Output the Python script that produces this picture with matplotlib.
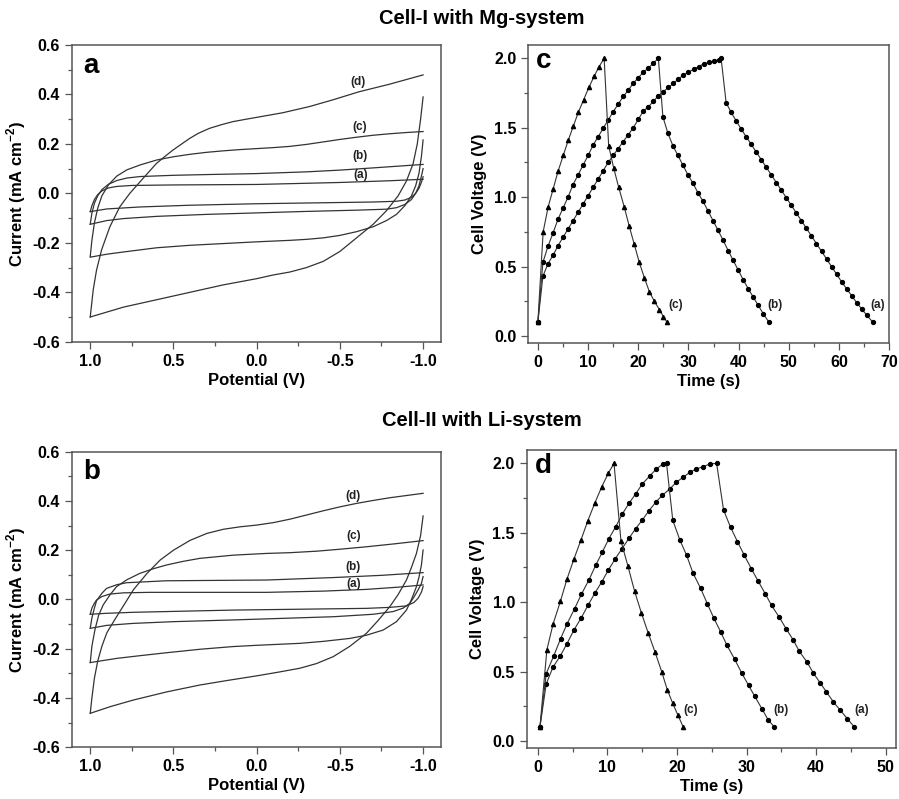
import matplotlib
matplotlib.use("Agg")
import matplotlib.pyplot as plt
from matplotlib.ticker import MultipleLocator, FormatStrFormatter

plt.rcParams['font.family'] = ['Liberation Sans', 'DejaVu Sans']
plt.rcParams['axes.unicode_minus'] = False
plt.rcParams['mathtext.fontset'] = 'custom'
plt.rcParams['mathtext.rm'] = 'Liberation Sans'
plt.rcParams['mathtext.bf'] = 'Liberation Sans:bold'

# ---- CV data, Mg system (panel a): upper branch 1.0 -> -1.0, lower branch -1.0 -> 1.0
mg_d_up_x = [1.0, 0.982, 0.962, 0.932, 0.882, 0.822, 0.762, 0.682, 0.602, 0.55, 0.503, 0.45, 0.403, 0.35, 0.283,
             0.21, 0.143, 0.07, 0.003, -0.157, -0.317, -0.457, -0.616, -0.796, -1.0]
mg_d_up_y = [-0.50, -0.39, -0.31, -0.229, -0.135, -0.054, 0.0, 0.061, 0.121, 0.15, 0.175, 0.20, 0.222, 0.243, 0.263,
             0.278, 0.29, 0.299, 0.307, 0.326, 0.351, 0.378, 0.411, 0.441, 0.479]
mg_d_lo_x = [-1.0, -0.985, -0.965, -0.94, -0.90, -0.85, -0.78, -0.70, -0.60, -0.50, -0.40, -0.30, -0.20, -0.10,
             0.0, 0.2, 0.4, 0.6, 0.8, 0.9, 1.0]
mg_d_lo_y = [0.39, 0.30, 0.20, 0.12, 0.05, -0.01, -0.07, -0.125, -0.18, -0.235, -0.275, -0.30, -0.318, -0.33,
             -0.345, -0.37, -0.40, -0.43, -0.46, -0.48, -0.50]

mg_c_up_x = [1.0, 0.99, 0.975, 0.955, 0.93, 0.89, 0.84, 0.78, 0.70, 0.60, 0.50, 0.40, 0.30, 0.20, 0.10, 0.0,
             -0.10, -0.20, -0.30, -0.40, -0.50, -0.60, -0.70, -0.80, -0.90, -1.0]
mg_c_up_y = [-0.256, -0.19, -0.12, -0.06, -0.01, 0.035, 0.07, 0.095, 0.115, 0.135, 0.148, 0.158, 0.166, 0.172,
             0.177, 0.181, 0.185, 0.19, 0.198, 0.208, 0.218, 0.227, 0.235, 0.241, 0.246, 0.25]
mg_c_lo_x = [-1.0, -0.99, -0.975, -0.955, -0.93, -0.89, -0.84, -0.78, -0.70, -0.60, -0.50, -0.40, -0.30, -0.20,
             0.0, 0.2, 0.4, 0.6, 0.8, 0.9, 1.0]
mg_c_lo_y = [0.216, 0.15, 0.08, 0.03, -0.01, -0.05, -0.085, -0.11, -0.135, -0.155, -0.17, -0.18, -0.186, -0.19,
             -0.196, -0.203, -0.21, -0.22, -0.237, -0.246, -0.258]

mg_b_up_x = [1.0, 0.99, 0.975, 0.955, 0.93, 0.89, 0.84, 0.78, 0.70, 0.50, 0.30, 0.0, -0.30, -0.50, -0.70, -0.85, -1.0]
mg_b_up_y = [-0.125, -0.08, -0.04, -0.01, 0.015, 0.037, 0.052, 0.062, 0.068, 0.073, 0.076, 0.08, 0.087, 0.094,
             0.103, 0.11, 0.117]
mg_b_lo_x = [-1.0, -0.99, -0.975, -0.955, -0.93, -0.89, -0.84, -0.78, -0.60, -0.30, 0.0, 0.3, 0.6, 0.8, 0.9, 1.0]
mg_b_lo_y = [0.10, 0.07, 0.03, 0.0, -0.025, -0.045, -0.058, -0.064, -0.068, -0.073, -0.079, -0.085, -0.093,
             -0.102, -0.11, -0.125]

mg_a_up_x = [1.0, 0.99, 0.975, 0.955, 0.93, 0.89, 0.84, 0.75, 0.5, 0.0, -0.5, -0.8, -1.0]
mg_a_up_y = [-0.074, -0.05, -0.025, -0.005, 0.01, 0.022, 0.028, 0.032, 0.034, 0.036, 0.044, 0.051, 0.057]
mg_a_lo_x = [-1.0, -0.99, -0.975, -0.955, -0.93, -0.89, -0.84, -0.7, -0.4, 0.0, 0.4, 0.7, 0.9, 1.0]
mg_a_lo_y = [0.067, 0.045, 0.02, 0.0, -0.016, -0.027, -0.032, -0.035, -0.038, -0.042, -0.048, -0.055, -0.063, -0.074]

mg_cv_label_x = [-0.626, -0.622, -0.616, -0.606]
mg_cv_label_y = [0.074, 0.152, 0.267, 0.452]

# ---- CV data, Li system (panel b)
li_d_up_x = [1.0, 0.99, 0.975, 0.955, 0.93, 0.90, 0.86, 0.80, 0.74, 0.66, 0.58, 0.50, 0.40, 0.30, 0.20, 0.10, 0.0,
             -0.10, -0.20, -0.30, -0.40, -0.50, -0.60, -0.70, -0.80, -0.90, -1.0]
li_d_up_y = [-0.462, -0.40, -0.32, -0.25, -0.19, -0.135, -0.09, -0.025, 0.04, 0.105, 0.16, 0.20, 0.24, 0.268,
             0.285, 0.295, 0.302, 0.312, 0.326, 0.343, 0.36, 0.376, 0.39, 0.402, 0.413, 0.422, 0.431]
li_d_lo_x = [-1.0, -0.985, -0.96, -0.93, -0.9, -0.85, -0.8, -0.73, -0.66, -0.56, -0.46, -0.36, -0.26, -0.13, 0.0,
             0.17, 0.34, 0.54, 0.74, 0.88, 1.0]
li_d_lo_y = [0.339, 0.26, 0.187, 0.13, 0.079, 0.02, -0.029, -0.085, -0.137, -0.19, -0.232, -0.26, -0.279, -0.295,
             -0.31, -0.328, -0.347, -0.375, -0.408, -0.435, -0.462]

li_c_up_x = [1.0, 0.99, 0.972, 0.95, 0.922, 0.88, 0.842, 0.78, 0.702, 0.62, 0.542, 0.44, 0.341, 0.14, -0.06, -0.2,
             -0.359, -0.5, -0.66, -0.83, -1.0]
li_c_up_y = [-0.256, -0.19, -0.124, -0.065, -0.022, 0.02, 0.052, 0.08, 0.106, 0.125, 0.14, 0.155, 0.167, 0.18,
             0.187, 0.19, 0.196, 0.204, 0.214, 0.226, 0.239]
li_c_lo_x = [-1.0, -0.99, -0.975, -0.96, -0.93, -0.9, -0.84, -0.76, -0.66, -0.56, -0.4, -0.26, 0.0, 0.14, 0.34,
             0.54, 0.7, 0.84, 1.0]
li_c_lo_y = [0.201, 0.14, 0.09, 0.052, 0.0, -0.043, -0.09, -0.124, -0.145, -0.158, -0.17, -0.178, -0.186, -0.191,
             -0.202, -0.216, -0.228, -0.239, -0.256]

li_b_up_x = [1.0, 0.99, 0.975, 0.962, 0.93, 0.902, 0.84, 0.782, 0.542, -0.06, -0.46, -0.75, -1.0]
li_b_up_y = [-0.117, -0.075, -0.035, -0.005, 0.025, 0.045, 0.06, 0.068, 0.076, 0.079, 0.089, 0.098, 0.109]
li_b_lo_x = [-1.0, -0.99, -0.97, -0.945, -0.92, -0.88, -0.82, -0.7, -0.46, 0.141, 0.5, 0.742, 0.9, 1.0]
li_b_lo_y = [0.093, 0.065, 0.039, 0.01, -0.016, -0.035, -0.049, -0.06, -0.07, -0.083, -0.09, -0.097, -0.105, -0.117]

li_a_up_x = [1.0, 0.99, 0.975, 0.962, 0.93, 0.882, 0.8, 0.642, -0.06, -0.4, -0.66, -0.85, -1.0]
li_a_up_y = [-0.06, -0.035, -0.015, -0.002, 0.012, 0.022, 0.027, 0.029, 0.029, 0.034, 0.041, 0.05, 0.059]
li_a_lo_x = [-1.0, -0.99, -0.97, -0.945, -0.9, -0.8, -0.66, 0.141, 0.742, 0.9, 1.0]
li_a_lo_y = [0.052, 0.03, 0.005, -0.012, -0.026, -0.032, -0.036, -0.043, -0.052, -0.056, -0.06]

li_cv_label_x = [-0.583, -0.579, -0.585, -0.579]
li_cv_label_y = [0.063, 0.133, 0.259, 0.421]

cv_names = ['(a)', '(b)', '(c)', '(d)']

# ---- Charge/discharge data, Mg system (panel c)
mg_gc_c_t = [0, 1.05, 2.05, 3.05, 4.05, 5.05, 6.05, 7.05, 8.05, 9.1, 10.15, 11.2, 12.2, 13.2,
             14.1, 15.1, 16.1, 17.2, 18.2, 19.2, 20.2, 21.2, 22.2, 23.2, 24.2, 25.0, 25.7]
mg_gc_c_v = [0.10, 0.75, 0.93, 1.06, 1.19, 1.30, 1.41, 1.51, 1.61, 1.70, 1.79, 1.87, 1.94, 2.00,
             1.37, 1.21, 1.07, 0.93, 0.79, 0.66, 0.53, 0.42, 0.32, 0.25, 0.19, 0.14, 0.10]

mg_gc_b_t = [0, 1, 2, 3, 4, 5, 6, 7, 8, 9, 10, 11, 12, 13, 14, 15, 16, 17, 18, 19, 20, 21, 22, 23, 24,
             24.9, 25.9, 26.9, 27.9, 28.9, 29.9, 30.9, 31.9, 32.9, 33.9, 34.9, 35.9, 36.9, 37.9, 38.9, 39.9,
             40.9, 41.9, 42.9, 43.9, 44.9, 46.0]
mg_gc_b_v = [0.10, 0.53, 0.645, 0.74, 0.84, 0.92, 1.00, 1.09, 1.16, 1.23, 1.30, 1.375, 1.435, 1.495, 1.555,
             1.615, 1.67, 1.725, 1.77, 1.82, 1.86, 1.90, 1.93, 1.965, 2.0,
             1.58, 1.46, 1.37, 1.30, 1.23, 1.16, 1.10, 1.03, 0.97, 0.90, 0.83, 0.76, 0.69, 0.615, 0.545, 0.475,
             0.405, 0.34, 0.28, 0.22, 0.16, 0.10]

mg_gc_a_t = [0, 1, 2, 3, 4, 5, 6, 7, 8, 9, 10, 11, 12, 13, 14, 15, 16, 17, 18, 19, 20, 21, 22, 23, 24, 25,
             26, 27, 28, 29, 30, 31, 32, 33, 34, 35, 36, 36.5,
             37.5, 38.5, 39.5, 40.5, 41.5, 42.5, 43.5, 44.5, 45.5, 46.5, 47.5, 48.5, 49.5, 50.5, 51.5, 52.5,
             53.5, 54.5, 55.5, 56.5, 57.5, 58.5, 59.5, 60.5, 61.5, 62.5, 63.5, 64.5, 65.5, 66.7]
mg_gc_a_v = [0.10, 0.43, 0.52, 0.58, 0.65, 0.71, 0.77, 0.83, 0.89, 0.95, 1.01, 1.07, 1.13, 1.19, 1.25, 1.30,
             1.35, 1.40, 1.45, 1.50, 1.56, 1.62, 1.65, 1.69, 1.73, 1.76, 1.79, 1.82, 1.85, 1.88, 1.90, 1.92,
             1.94, 1.96, 1.97, 1.98, 1.99, 2.0,
             1.68, 1.61, 1.55, 1.49, 1.435, 1.38, 1.325, 1.27, 1.215, 1.16, 1.105, 1.05, 0.995, 0.94, 0.885,
             0.83, 0.775, 0.72, 0.665, 0.61, 0.555, 0.50, 0.445, 0.39, 0.34, 0.29, 0.24, 0.195, 0.15, 0.10]

mg_gc_label_t = [67.6, 47.2, 27.4]

# ---- Charge/discharge data, Li system (panel d)
li_gc_c_t = [0.3, 1.3, 2.2, 3.25, 4.2, 5.2, 6.2, 7.2, 8.2, 9.2, 10.15, 10.95,
             11.95, 12.95, 13.9, 14.9, 15.85, 16.85, 17.8, 18.6, 19.4, 20.1, 20.9]
li_gc_c_v = [0.10, 0.657, 0.844, 1.007, 1.168, 1.312, 1.448, 1.588, 1.715, 1.832, 1.93, 2.0,
             1.44, 1.26, 1.08, 0.92, 0.78, 0.64, 0.50, 0.37, 0.27, 0.19, 0.10]

li_gc_b_t = [0.3, 1.2, 2.26, 3.27, 4.2, 5.28, 6.24, 7.35, 8.3, 9.27, 10.2, 11.2, 12.15, 13.1, 14.07, 15.0,
             16.1, 17.05, 18.0, 18.5,
             19.4, 20.4, 21.4, 22.3, 23.4, 24.35, 25.3, 26.3, 27.2, 28.3, 29.3, 30.3, 31.2, 32.2, 33.1, 34.0]
li_gc_b_v = [0.10, 0.484, 0.61, 0.736, 0.844, 0.952, 1.055, 1.16, 1.264, 1.36, 1.456, 1.544, 1.635, 1.712,
             1.78, 1.85, 1.91, 1.96, 1.995, 2.0,
             1.59, 1.45, 1.336, 1.21, 1.10, 0.99, 0.885, 0.784, 0.688, 0.588, 0.49, 0.40, 0.32, 0.233, 0.153, 0.10]

li_gc_a_t = [0.3, 1.2, 2.16, 3.2, 4.18, 5.2, 6.24, 7.2, 8.2, 9.17, 10.1, 11.1, 12.1, 13.1, 14.07, 15.0, 16.0,
             16.95, 17.9, 18.97, 19.9, 20.9, 21.85, 22.8, 23.8, 24.7, 25.7,
             26.7, 27.7, 28.7, 29.7, 30.7, 31.7, 32.7, 33.6, 34.7, 35.7, 36.7, 37.6, 38.7, 39.6, 40.6, 41.5,
             42.5, 43.5, 44.5, 45.5]
li_gc_a_v = [0.10, 0.41, 0.53, 0.61, 0.70, 0.80, 0.887, 0.976, 1.065, 1.144, 1.228, 1.31, 1.385, 1.46, 1.53,
             1.59, 1.66, 1.72, 1.77, 1.815, 1.863, 1.90, 1.935, 1.96, 1.976, 1.995, 2.0,
             1.664, 1.54, 1.436, 1.336, 1.24, 1.149, 1.06, 0.976, 0.892, 0.808, 0.729, 0.645, 0.568, 0.49,
             0.417, 0.353, 0.28, 0.22, 0.16, 0.10]

li_gc_label_t = [46.5, 34.9, 22.0]
gc_label_v = 0.22

line_col = '#333333'
spine_col = '#555555'


def style_axes(ax):
    for s in ax.spines.values():
        s.set_color(spine_col)
        s.set_linewidth(1.1)
    ax.tick_params(which='both', direction='out', top=False, right=False, color=spine_col,
                   labelsize=11.5, width=0.9)
    ax.tick_params(which='major', length=5)
    ax.tick_params(which='minor', length=3)
    for lab in ax.get_xticklabels() + ax.get_yticklabels():
        lab.set_fontweight('bold')


def cv_panel(ax, loops, lab_x, lab_y, letter):
    for ux, uy, lx, ly in loops:
        ax.plot(ux, uy, color=line_col, lw=0.9)
        ax.plot(lx, ly, color=line_col, lw=0.9)
    for name, x, y in zip(cv_names, lab_x, lab_y):
        ax.text(x, y, name, fontsize=8.5, fontweight='bold', ha='center', va='center', color='#222222')
    ax.set_xlim(1.11, -1.11)
    ax.set_ylim(-0.6, 0.6)
    ax.xaxis.set_major_locator(MultipleLocator(0.5))
    ax.xaxis.set_minor_locator(MultipleLocator(0.25))
    ax.yaxis.set_major_locator(MultipleLocator(0.2))
    ax.yaxis.set_minor_locator(MultipleLocator(0.1))
    ax.xaxis.set_major_formatter(FormatStrFormatter('%.1f'))
    ax.yaxis.set_major_formatter(FormatStrFormatter('%.1f'))
    ax.set_xlabel('Potential (V)', fontsize=12, fontweight='bold', labelpad=3)
    ax.set_ylabel(r'Current (mA cm$^{\mathbf{-2}}$)', fontsize=12, fontweight='bold', labelpad=3)
    ax.text(0.03, 0.93, letter, transform=ax.transAxes, fontsize=20, fontweight='bold', va='center')
    style_axes(ax)


def gc_panel(ax, series, lab_t, xlim, letter):
    for (t, v), mk, ms in zip(series, ['o', 'o', '^'], [2.8, 2.8, 3.0]):
        ax.plot(t, v, color=line_col, lw=0.8, marker=mk, markersize=ms,
                markerfacecolor='black', markeredgecolor='black')
    for name, t in zip(cv_names, lab_t):
        ax.text(t, gc_label_v, name, fontsize=8.5, fontweight='bold', ha='center', va='center', color='#222222')
    ax.set_xlim(*xlim)
    ax.set_ylim(-0.053, 2.096)
    ax.xaxis.set_major_locator(MultipleLocator(10))
    ax.xaxis.set_minor_locator(MultipleLocator(5))
    ax.yaxis.set_major_locator(MultipleLocator(0.5))
    ax.yaxis.set_minor_locator(MultipleLocator(0.25))
    ax.yaxis.set_major_formatter(FormatStrFormatter('%.1f'))
    ax.set_xlabel('Time (s)', fontsize=12, fontweight='bold', labelpad=3)
    ax.set_ylabel('Cell Voltage (V)', fontsize=12, fontweight='bold', labelpad=5)
    ax.text(0.022, 0.945, letter, transform=ax.transAxes, fontsize=20, fontweight='bold', va='center')
    style_axes(ax)


fig = plt.figure(figsize=(8.99, 7.99), dpi=100)
ax_a = fig.add_axes([0.080, 0.5723, 0.411, 0.3714])
ax_c = fig.add_axes([0.5877, 0.5703, 0.4015, 0.3734])
ax_b = fig.add_axes([0.080, 0.0647, 0.411, 0.3700])
ax_d = fig.add_axes([0.5859, 0.0635, 0.4108, 0.3733])

cv_panel(ax_a, [(mg_a_up_x, mg_a_up_y, mg_a_lo_x, mg_a_lo_y),
                (mg_b_up_x, mg_b_up_y, mg_b_lo_x, mg_b_lo_y),
                (mg_c_up_x, mg_c_up_y, mg_c_lo_x, mg_c_lo_y),
                (mg_d_up_x, mg_d_up_y, mg_d_lo_x, mg_d_lo_y)], mg_cv_label_x, mg_cv_label_y, 'a')
cv_panel(ax_b, [(li_a_up_x, li_a_up_y, li_a_lo_x, li_a_lo_y),
                (li_b_up_x, li_b_up_y, li_b_lo_x, li_b_lo_y),
                (li_c_up_x, li_c_up_y, li_c_lo_x, li_c_lo_y),
                (li_d_up_x, li_d_up_y, li_d_lo_x, li_d_lo_y)], li_cv_label_x, li_cv_label_y, 'b')

gc_panel(ax_c, [(mg_gc_a_t, mg_gc_a_v), (mg_gc_b_t, mg_gc_b_v), (mg_gc_c_t, mg_gc_c_v)],
         mg_gc_label_t, (-1.9, 70.0), 'c')
gc_panel(ax_d, [(li_gc_a_t, li_gc_a_v), (li_gc_b_t, li_gc_b_v), (li_gc_c_t, li_gc_c_v)],
         li_gc_label_t, (-1.6, 51.5), 'd')

fig.text(0.536, 1 - 19 / 799, 'Cell-I with Mg-system', ha='center', va='center', fontsize=14.5, fontweight='bold')
fig.text(0.536, 1 - 420 / 799, 'Cell-II with Li-system', ha='center', va='center', fontsize=14.5, fontweight='bold')

fig.savefig('out.png', dpi=100)
